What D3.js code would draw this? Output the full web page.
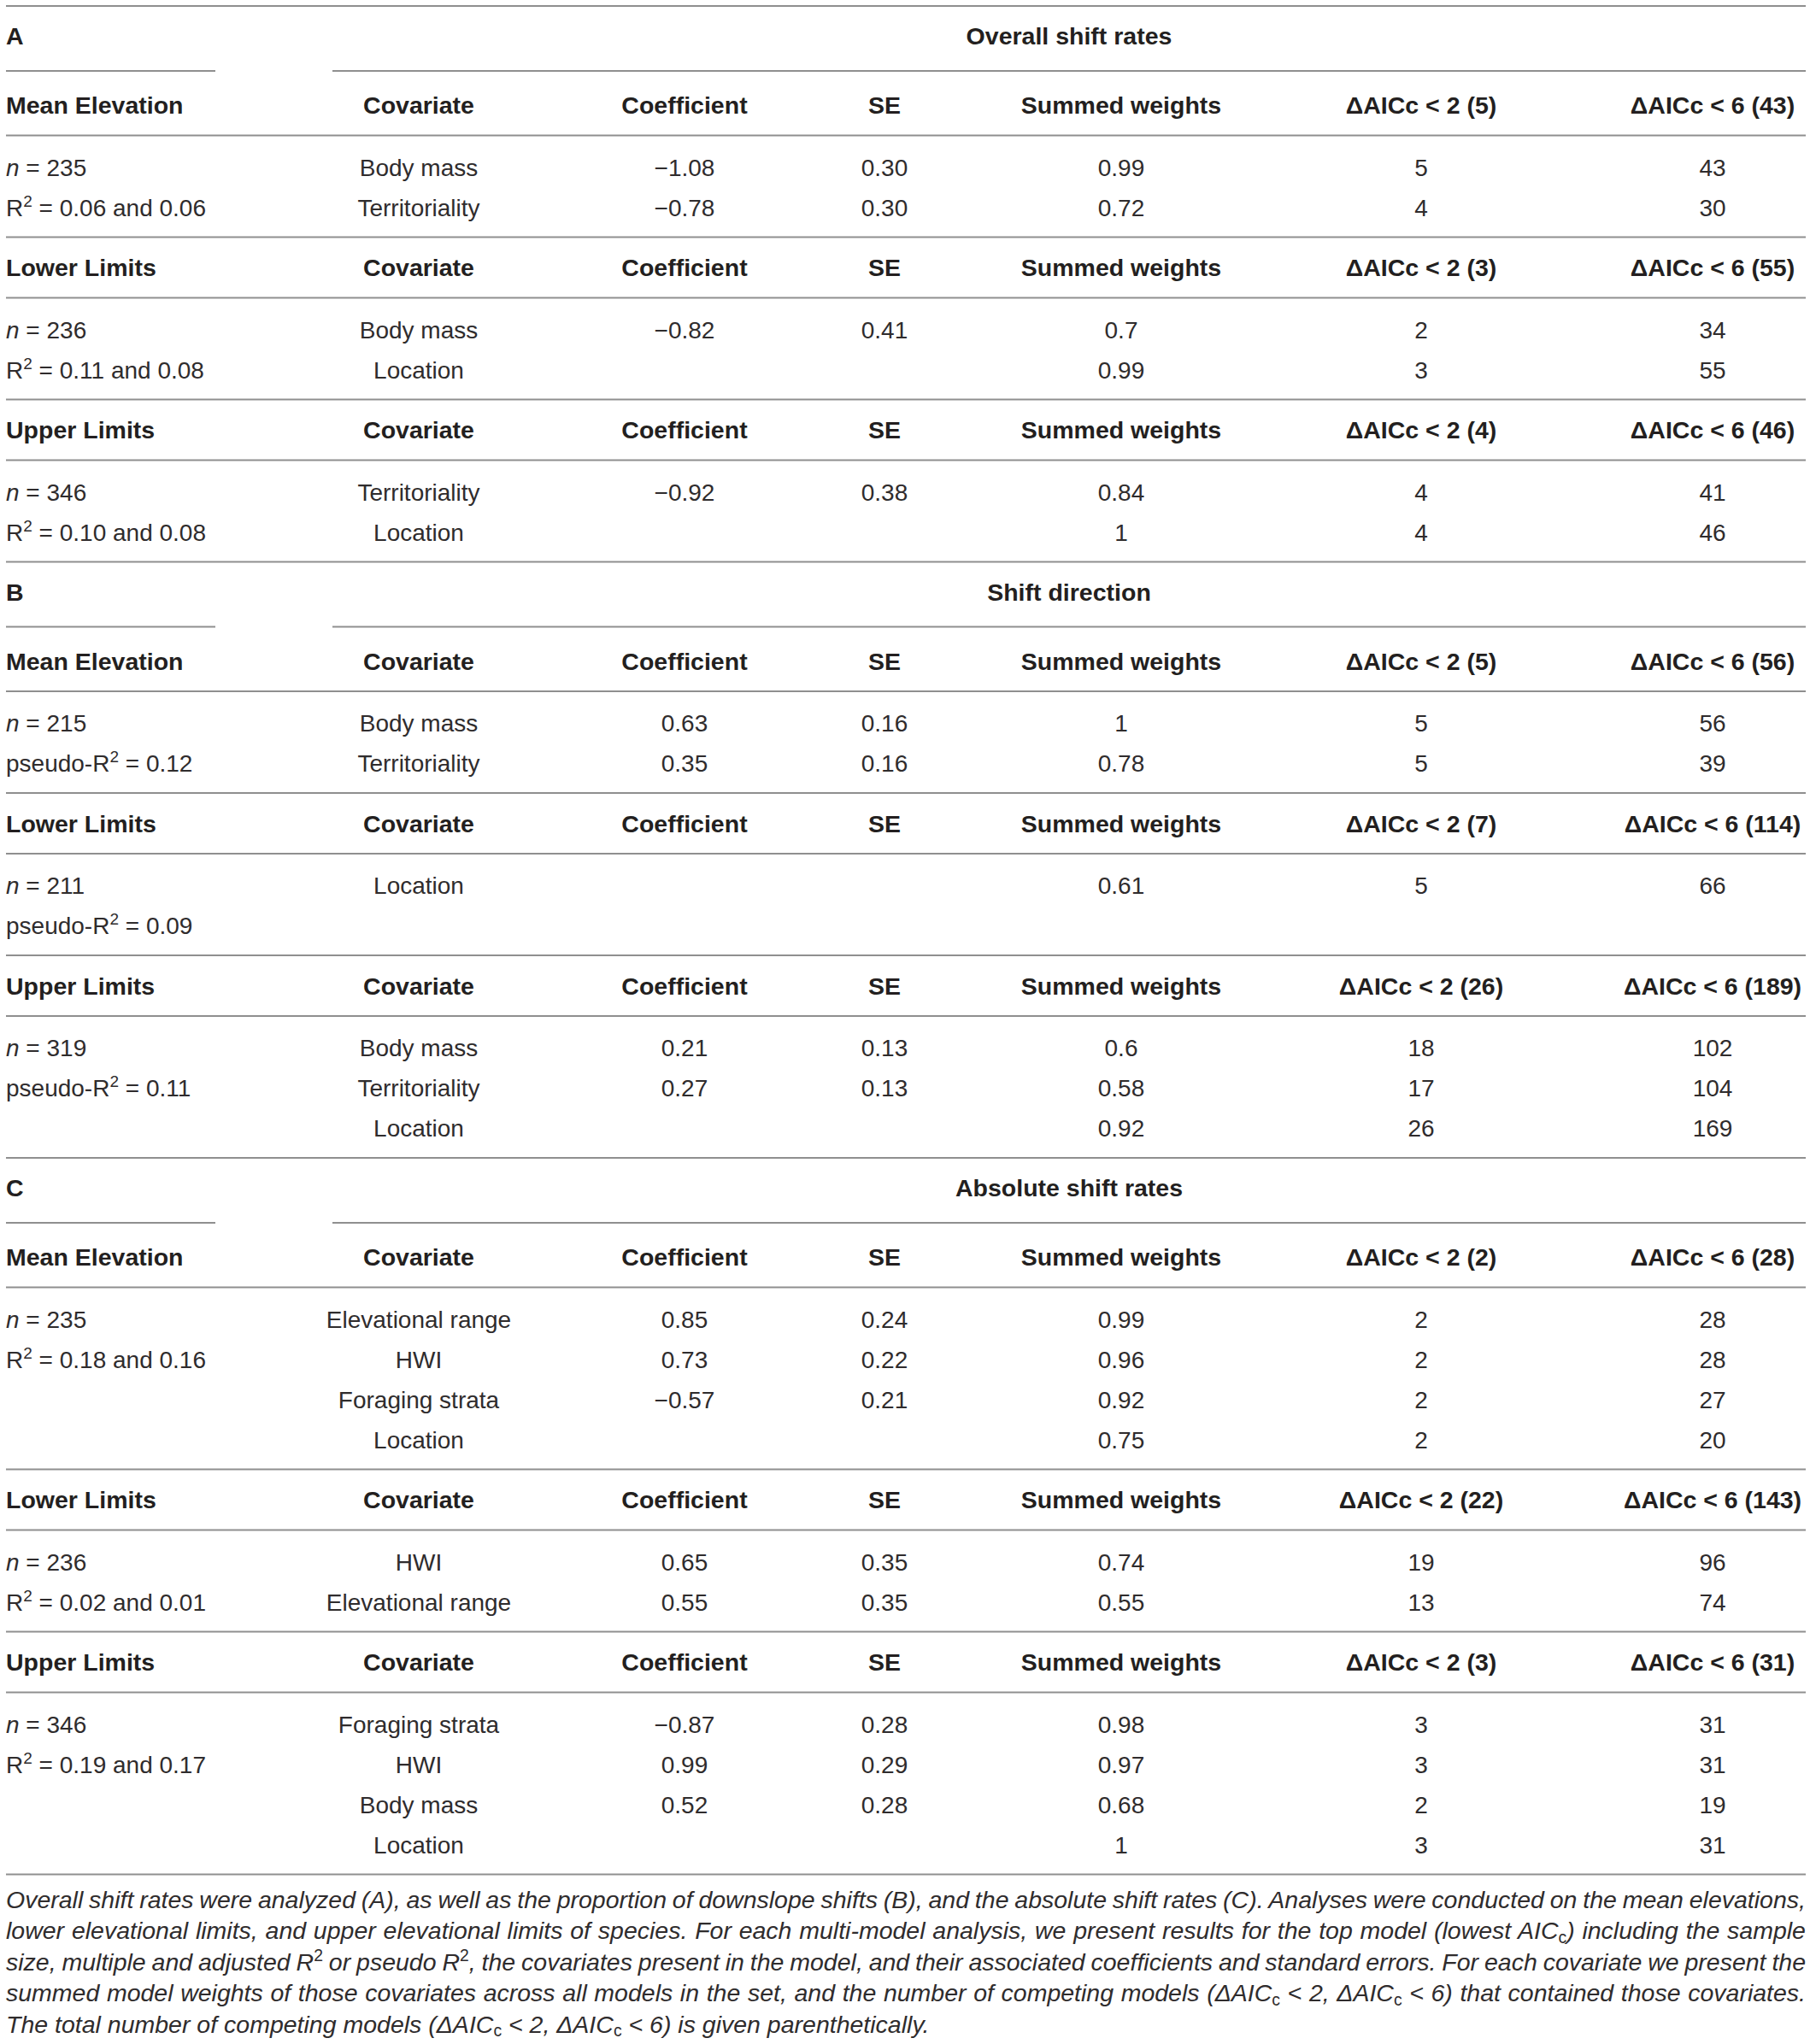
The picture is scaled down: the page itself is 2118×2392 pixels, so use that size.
<!DOCTYPE html>
<html>
<head>
<meta charset="utf-8">
<script src="https://cdn.jsdelivr.net/npm/d3@7"></script>
<style>
  body { margin: 0; background: #fff; }
  svg { display: block; font-family: "Liberation Sans", Arial, sans-serif; }
</style>
</head>
<body>
<div id="chart"></div>
<script>
// Table values
var panelLetters = ["A", "B", "C"];
var panelTitles = ["Overall shift rates", "Shift direction", "Absolute shift rates"];
var groupNames = ["Mean Elevation", "Lower Limits", "Upper Limits"];
var columnHeads = ["Covariate", "Coefficient", "SE", "Summed weights"];
var sampleSizes = [[235, 236, 346], [215, 211, 319], [235, 236, 346]];
var fitLabels = ["R^2 = ", "pseudo-R^2 = ", "R^2 = "];
var fitValues = [
	["0.06 and 0.06", "0.11 and 0.08", "0.10 and 0.08"],
	["0.12", "0.09", "0.11"],
	["0.18 and 0.16", "0.02 and 0.01", "0.19 and 0.17"]
];
var totals2 = [[5, 3, 4], [5, 7, 26], [2, 22, 3]];
var totals6 = [[43, 55, 46], [56, 114, 189], [28, 143, 31]];

// panel, group, covariate, coefficient, SE, summed weight, dAICc<2, dAICc<6
var covariateRows = [
	[0, 0, "Body mass", -1.08, 0.30, 0.99, 5, 43],
	[0, 0, "Territoriality", -0.78, 0.30, 0.72, 4, 30],
	[0, 1, "Body mass", -0.82, 0.41, 0.7, 2, 34],
	[0, 1, "Location", null, null, 0.99, 3, 55],
	[0, 2, "Territoriality", -0.92, 0.38, 0.84, 4, 41],
	[0, 2, "Location", null, null, 1, 4, 46],
	[1, 0, "Body mass", 0.63, 0.16, 1, 5, 56],
	[1, 0, "Territoriality", 0.35, 0.16, 0.78, 5, 39],
	[1, 1, "Location", null, null, 0.61, 5, 66],
	[1, 2, "Body mass", 0.21, 0.13, 0.6, 18, 102],
	[1, 2, "Territoriality", 0.27, 0.13, 0.58, 17, 104],
	[1, 2, "Location", null, null, 0.92, 26, 169],
	[2, 0, "Elevational range", 0.85, 0.24, 0.99, 2, 28],
	[2, 0, "HWI", 0.73, 0.22, 0.96, 2, 28],
	[2, 0, "Foraging strata", -0.57, 0.21, 0.92, 2, 27],
	[2, 0, "Location", null, null, 0.75, 2, 20],
	[2, 1, "HWI", 0.65, 0.35, 0.74, 19, 96],
	[2, 1, "Elevational range", 0.55, 0.35, 0.55, 13, 74],
	[2, 2, "Foraging strata", -0.87, 0.28, 0.98, 3, 31],
	[2, 2, "HWI", 0.99, 0.29, 0.97, 3, 31],
	[2, 2, "Body mass", 0.52, 0.28, 0.68, 2, 19],
	[2, 2, "Location", null, null, 1, 3, 31]
];

var footnoteLines = [
	"Overall shift rates were analyzed (A), as well as the proportion of downslope shifts (B), and the absolute shift rates (C). Analyses were conducted on the mean elevations,",
	"lower elevational limits, and upper elevational limits of species. For each multi-model analysis, we present results for the top model (lowest AIC_c) including the sample",
	"size, multiple and adjusted R^2 or pseudo R^2, the covariates present in the model, and their associated coefficients and standard errors. For each covariate we present the",
	"summed model weights of those covariates across all models in the set, and the number of competing models (\u0394AIC_c < 2, \u0394AIC_c < 6) that contained those covariates.",
	"The total number of competing models (\u0394AIC_c < 2, \u0394AIC_c < 6) is given parenthetically."
];

// Page
var width = 2118, height = 2392;
var left = 7, right = 2113;
var ink = "#231f20", softInk = "#2f2c2d", rule = "#8f8f8f";
var fsBold = 28.5, fsText = 28, fsNote = 28.5;

var svg = d3.select("#chart")
	.append("svg")
	.attr("width", width)
	.attr("height", height);

svg.append("rect").attr("width", width).attr("height", height).attr("fill", "#fff");

var colKeys = ["covariate", "coefficient", "se", "weight", "aicc2", "aicc6"];
var x = d3.scaleOrdinal()
	.domain(colKeys)
	.range([490, 801, 1035, 1312, 1663, 2004]);

var rowStep = d3.scaleLinear().domain([0, 1]).range([0, 47]);
var fmt2 = d3.format(".2f");

function hline(x1, x2, y) {
	svg.append("line")
		.attr("x1", x1).attr("x2", x2)
		.attr("y1", y).attr("y2", y)
		.attr("stroke", rule)
		.attr("stroke-width", 2);
}

// text centred on y (baseline placed by hand, no dy on the parent)
function label(str, xx, y, anchor, bold) {
	var size = bold ? fsBold : fsText;
	return svg.append("text")
		.attr("x", xx)
		.attr("y", y + size * 0.36)
		.attr("text-anchor", anchor)
		.attr("font-size", size)
		.attr("font-weight", bold ? "bold" : "normal")
		.attr("fill", bold ? ink : softInk)
		.text(str);
}

// writes "R^2" / "AIC_c" marks as super/subscripts
function richText(sel, str, size) {
	var parts = str.split(/(\^2|_c)/);
	var shift = 0;
	parts.forEach(function(part) {
		if (part === "") return;
		if (part === "^2" || part === "_c") {
			var d = part === "^2" ? -size * 0.38 : size * 0.15;
			sel.append("tspan")
				.attr("dy", d - shift)
				.attr("font-size", size * 0.68)
				.attr("font-style", "normal")
				.text(part.slice(1));
			shift = d;
		} else {
			var ts = sel.append("tspan").text(part);
			if (shift !== 0) ts.attr("dy", -shift);
			shift = 0;
		}
	});
}

var y = 7;
hline(left, right, y);

panelLetters.forEach(function(letter, p) {
	y += 35;
	label(letter, left, y, "start", true);
	label(panelTitles[p], 1251, y, "middle", true);
	y += 41;
	hline(left, 252, y);
	hline(389, right, y);

	groupNames.forEach(function(gName, g) {
		y += (g === 0) ? 40 : 35.5;

		// header row
		label(gName, left, y, "start", true);
		columnHeads.forEach(function(h, i) {
			label(h, x(colKeys[i]), y, "middle", true);
		});
		label("\u0394AICc < 2 (" + totals2[p][g] + ")", x("aicc2"), y, "middle", true);
		label("\u0394AICc < 6 (" + totals6[p][g] + ")", x("aicc6"), y, "middle", true);

		y += 35.5;
		hline(left, right, y);
		y += 37;

		var rows = covariateRows.filter(function(r) { return r[0] === p && r[1] === g; });
		var nRows = Math.max(2, rows.length);
		var y0 = y;

		// sample size and fit
		var nText = svg.append("text")
			.attr("x", left).attr("y", y0 + fsText * 0.36)
			.attr("font-size", fsText).attr("fill", softInk);
		nText.append("tspan").attr("font-style", "italic").text("n");
		nText.append("tspan").text(" = " + sampleSizes[p][g]);

		var fitText = svg.append("text")
			.attr("x", left).attr("y", y0 + rowStep(1) + fsText * 0.36)
			.attr("font-size", fsText).attr("fill", softInk);
		richText(fitText, fitLabels[p] + fitValues[p][g], fsText);

		rows.forEach(function(r, i) {
			var ry = y0 + rowStep(i);
			label(r[2], x("covariate"), ry, "middle", false);
			if (r[3] !== null) label(fmt2(r[3]), x("coefficient"), ry, "middle", false);
			if (r[4] !== null) label(fmt2(r[4]), x("se"), ry, "middle", false);
			label(String(r[5]), x("weight"), ry, "middle", false);
			label(String(r[6]), x("aicc2"), ry, "middle", false);
			label(String(r[7]), x("aicc6"), ry, "middle", false);
		});

		y = y0 + rowStep(nRows - 1) + 35;
		hline(left, right, y);
	});
});

// Footnote, justified like the original
var noteTop = 2223, noteStep = 36.6;
footnoteLines.forEach(function(line, i) {
	var t = svg.append("text")
		.attr("x", left)
		.attr("y", noteTop + i * noteStep + fsNote * 0.34)
		.attr("font-size", fsNote)
		.attr("font-style", "italic")
		.attr("fill", softInk);
	richText(t, line, fsNote);
	if (i < footnoteLines.length - 1) {
		var natural = t.node().getComputedTextLength();
		var spaces = (line.match(/ /g) || []).length;
		t.attr("word-spacing", ((right - left) - natural) / spaces);
	}
});
</script>
</body>
</html>
